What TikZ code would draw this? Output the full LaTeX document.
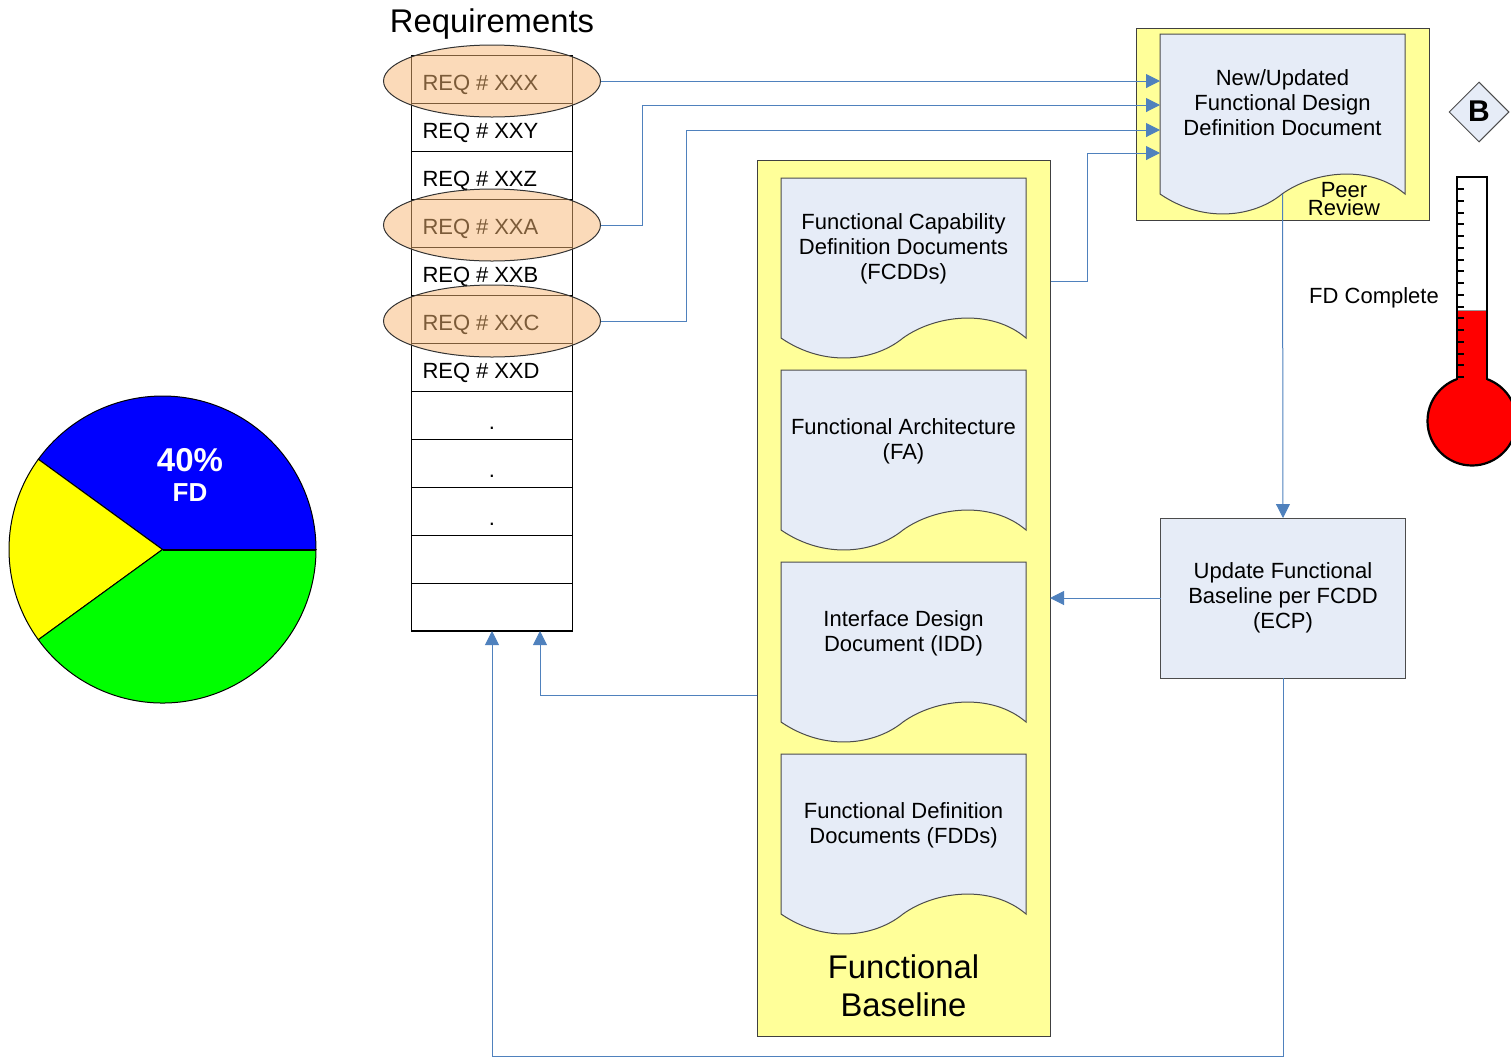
\documentclass[tikz,border=0pt]{standalone}
\usepackage{fontspec}
\setmainfont{Liberation Sans}
\usetikzlibrary{arrows.meta,positioning,shapes.geometric}

\definecolor{docblue}{HTML}{E6ECF7}
\definecolor{panelyellow}{HTML}{FFFF99}
\definecolor{linkblue}{HTML}{4F81BD}
\definecolor{ovalorange}{HTML}{F7B673}
\definecolor{pieyellow}{RGB}{255,255,0}

\newcommand{\reqlabel}[1]{REQ \kern-.7pt\# \kern-.7pt#1}

\newdimen\docleft
\newdimen\docfoot
\newdimen\docright
\newdimen\doctop
\pgfdeclareshape{wavedoc}{
  \inheritsavedanchors[from=rectangle]
  \inheritanchorborder[from=rectangle]
  \inheritanchor[from=rectangle]{center}
  \inheritanchor[from=rectangle]{north}
  \inheritanchor[from=rectangle]{south}
  \inheritanchor[from=rectangle]{east}
  \inheritanchor[from=rectangle]{west}
  \backgroundpath{
    \pgfextractx{\docleft}{\southwest}
    \pgfextractx{\docright}{\northeast}
    \pgfextracty{\doctop}{\northeast}
    \docfoot=\doctop
    \advance\docfoot by -80pt
    \pgfpathmoveto{\pgfqpoint{\docleft}{\doctop}}
    \pgfpathlineto{\pgfqpoint{\docleft}{\docfoot}}
    \pgfpathcurveto{\pgfpointadd{\pgfqpoint{\docleft}{\docfoot}}{\pgfqpoint{22pt}{-15pt}}}
      {\pgfpointadd{\pgfqpoint{\docleft}{\docfoot}}{\pgfqpoint{47pt}{-11.5pt}}}
      {\pgfpointadd{\pgfqpoint{\docleft}{\docfoot}}{\pgfqpoint{61pt}{0pt}}}
    \pgfpathcurveto{\pgfpointadd{\pgfqpoint{\docleft}{\docfoot}}{\pgfqpoint{77pt}{11.5pt}}}
      {\pgfpointadd{\pgfqpoint{\docleft}{\docfoot}}{\pgfqpoint{105pt}{15pt}}}
      {\pgfpointadd{\pgfqpoint{\docleft}{\docfoot}}{\pgfqpoint{122.5pt}{0pt}}}
    \pgfpathlineto{\pgfqpoint{\docright}{\doctop}}
    \pgfpathclose
  }
}

\tikzset{
  textfont/.style={font=\fontsize{11}{12.5}\selectfont},
  bigfont/.style={font=\fontsize{16.4}{19}\selectfont},
  panel/.style={draw=black!75,line width=.5pt,fill=panelyellow,outer sep=0pt},
  doc/.style={wavedoc,draw=black!70,line width=.5pt,fill=docblue,minimum width=122.5pt,minimum height=71pt,inner sep=0pt,outer sep=0pt,align=center,textfont},
  reqrow/.style={draw,line width=.5pt,minimum width=80.5pt,minimum height=24pt,text width=69.5pt,inner xsep=5.5pt,inner ysep=0pt,outer sep=0pt,text height=11pt,text depth=0pt,textfont},
  reqdot/.style={reqrow,align=center,text height=14pt},
  oval/.style={ellipse,draw=black!80,line width=.5pt,fill=ovalorange,fill opacity=.5,minimum width=108.5pt,minimum height=36pt,inner sep=0pt,outer sep=0pt},
  link/.style={draw=linkblue,line width=.5pt,-{Triangle[length=7pt,width=7pt,fill=linkblue]}},
  tick/.style={line width=1pt},
  tube/.style={line width=1.1pt}
}

\begin{document}
\begin{tikzpicture}[x=.5pt,y=-.5pt,node distance=25pt]
\path[use as bounding box,clip] (0,0) rectangle (1511,1057);

% pie
\coordinate (pie centre) at (162.5,549.5);
\draw[fill=blue,line width=.5pt] (pie centre) -- ++(0:76.75pt) arc[start angle=0,end angle=144,radius=76.75pt] -- cycle;
\draw[fill=pieyellow,line width=.5pt] (pie centre) -- ++(144:76.75pt) arc[start angle=144,end angle=216,radius=76.75pt] -- cycle;
\draw[fill=green,line width=.5pt] (pie centre) -- ++(216:76.75pt) arc[start angle=216,end angle=360,radius=76.75pt] -- cycle;
\draw[line width=1pt] (pie centre) -- ++(0:76.75pt);
\node[white,font=\fontsize{16.5}{18}\bfseries\selectfont] (pie percent) at (190,460) {40\%};
\node[white,font=\fontsize{13}{15}\bfseries\selectfont] (pie fd) at (190,493) {FD};

% requirements list
\node[reqrow]  (req xxx)               at (492,79)            {\reqlabel{XXX}};
\node[reqrow]  (req xxy)               [below=0pt of req xxx] {\reqlabel{XXY}};
\node[reqrow]  (req xxz)               [below=0pt of req xxy] {\reqlabel{XXZ}};
\node[reqrow]  (req xxa)               [below=0pt of req xxz] {\reqlabel{XXA}};
\node[reqrow]  (req xxb)               [below=0pt of req xxa] {\reqlabel{XXB}};
\node[reqrow]  (req xxc)               [below=0pt of req xxb] {\reqlabel{XXC}};
\node[reqrow]  (req xxd)               [below=0pt of req xxc] {\reqlabel{XXD}};
\node[reqdot]  (req dot one)           [below=0pt of req xxd] {.};
\node[reqdot]  (req dot two)           [below=0pt of req dot one] {.};
\node[reqdot]  (req dot three)         [below=0pt of req dot two] {.};
\node[reqrow]  (req blank)             [below=0pt of req dot three] {};
\node[reqrow]  (req last)              [below=0pt of req blank] {};
\draw[line width=.8pt] (req last.south west) -- (req last.south east);
\node[bigfont] (requirements title)    [above=4.5pt of req xxx] {Requirements};
\node[oval]    (oval xxx)              at ([yshift=-1pt]req xxx) {};
\node[oval]    (oval xxa)              at ([yshift=-1pt]req xxa) {};
\node[oval]    (oval xxc)              at ([yshift=-1pt]req xxc) {};

% functional baseline
\node[panel,minimum width=146.5pt,minimum height=438pt] (baseline panel) at (903.5,598) {};
\node[doc] (fcdd) at (903.5,249)  {Functional Capability\\Definition Documents\\(FCDDs)};
\node[doc] (fa)   [below=of fcdd] {Functional Architecture\\(FA)};
\node[doc] (idd)  [below=of fa]   {Interface Design\\Document (IDD)};
\node[doc] (fdd)  [below=of idd]  {Functional Definition\\Documents (FDDs)};
\node[bigfont,align=center] (baseline title) [below=26pt of fdd] {Functional\\Baseline};

% new document
\node[panel,minimum width=146.5pt,minimum height=96pt] (peer frame) at (1282.5,124) {};
\node[doc,minimum height=69pt] (new doc) at (1282.5,103) {New/Updated\\Functional Design\\Definition Document};
\node[align=center,font=\fontsize{11}{9}\selectfont,inner sep=0pt] (peer review) at (1344,199) {Peer\\Review};
\node[draw=black!70,line width=.5pt,fill=docblue,minimum width=122.5pt,minimum height=80pt,outer sep=0pt,align=center,textfont] (update) at (1283,598) {Update Functional\\Baseline per FCDD\\(ECP)};
\node[textfont] (fd complete) at (1374,298) {FD Complete};
\node[diamond,draw=black!70,line width=.5pt,fill=docblue,minimum width=30pt,minimum height=30pt,inner sep=0pt,font=\fontsize{15}{15}\bfseries\selectfont] (badge) at (1479,112) {\raisebox{1.2pt}{B}};

% thermometer
\draw[tube,fill=red] (1472,421) circle[radius=22.25pt];
\fill[red] (1457,310) rectangle (1487,385);
\fill[white] (1457,177) rectangle (1487,310);
\draw[black!40,line width=.5pt] (1457,310) -- (1487,310);
\draw[tube] (1457,380) -- (1457,177) -- (1487,177) -- (1487,380);
\foreach \y in {0,...,16}
  \draw[tick] (1457,189+11.75*\y) -- ++(7,0);

% connectors
\coordinate (in xxa) at (1160,105);
\coordinate (in xxc) at (1160,130);
\coordinate (in fcdd) at (1160,153);
\coordinate (fcdd tap) at (1051,281);
\coordinate (idd tap) at (757,695);
\coordinate (base line) at (492,1056);
\draw[link] (oval xxx.east) -- (oval xxx.east -| new doc.west);
\draw[link] (oval xxa.east) -- ++(42,0) |- (in xxa);
\draw[link] (oval xxc.east) -- ++(86,0) |- (in xxc);
\draw[link] (fcdd tap) -- ++(36,0) |- (in fcdd);
\draw[link] ([yshift=-11pt]new doc.south) -- (update.north);
\draw[link] (update.west) -- (update.west -| baseline panel.east);
\draw[link] (update.south) |- (base line) -- (req last.south);
\draw[link] (idd tap) -| ([xshift=24pt]req last.south);
\end{tikzpicture}
\end{document}
